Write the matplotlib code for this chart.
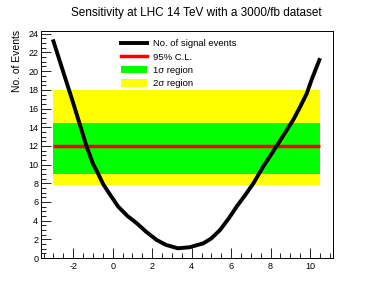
import matplotlib
matplotlib.use("Agg")
import matplotlib.pyplot as plt
from matplotlib.ticker import MultipleLocator
from matplotlib.lines import Line2D
from matplotlib.patches import Patch

plt.rcParams['font.family'] = ['Liberation Sans', 'DejaVu Sans']
plt.rcParams['axes.unicode_minus'] = False

# Data
mass_x = [-3.0, -2.0, -1.33, -1.0, -0.73, -0.48, -0.2, 0.28, 0.75, 1.22, 1.7, 2.23, 2.7, 3.3,
          3.9, 4.59, 5.0, 5.44, 5.9, 6.28, 6.7, 7.13, 7.63, 8.31, 8.7, 9.15, 9.5, 9.83, 10.08, 10.47]
signal_events = [23.2, 16.6, 12.0, 10.1, 9.0, 7.9, 7.0, 5.5, 4.5, 3.72, 2.8, 1.93, 1.4, 1.04,
                 1.15, 1.57, 2.1, 3.0, 4.3, 5.5, 6.7, 8.0, 9.8, 12.0, 13.3, 14.8, 16.2, 17.6, 19.1, 21.2]
band_x = [-3.0, 10.5]
cl95 = 12.0
sigma1 = (9.0, 14.5)
sigma2 = (7.85, 18.0)

title = "Sensitivity at LHC 14 TeV with a 3000/fb dataset"
ylabel = "No. of Events"
legend_labels = ["No. of signal events", "95% C.L.", "1\u03c3 region", "2\u03c3 region"]

fig = plt.figure(figsize=(3.74, 2.90), dpi=100)
ax = fig.add_axes([41/374, 32/290, 292/374, 227/290])

ax.fill_between(band_x, [sigma2[0]]*2, [sigma2[1]]*2, color='#ffff00', lw=0, zorder=1)
ax.fill_between(band_x, [sigma1[0]]*2, [sigma1[1]]*2, color='#00ff00', lw=0, zorder=2)
ax.plot(band_x, [cl95]*2, color='#ff0000', lw=2.5, zorder=3, solid_capstyle='butt')
ax.plot(mass_x, signal_events, color='black', lw=2.8, zorder=4, solid_joinstyle='round')

ax.set_xlim(-3.63, 11.16)
ax.set_ylim(0, 24.3)
ax.xaxis.set_major_locator(MultipleLocator(2))
ax.xaxis.set_minor_locator(MultipleLocator(0.5))
ax.yaxis.set_major_locator(MultipleLocator(2))
ax.yaxis.set_minor_locator(MultipleLocator(0.5))
ax.tick_params(which='both', direction='in', top=False, right=False, labelsize=6.5, width=0.6, colors='black')
ax.tick_params(which='major', length=7)
ax.tick_params(which='minor', length=3.5)
ax.tick_params(axis='x', pad=3)
ax.tick_params(axis='y', pad=2)
for s in ax.spines.values():
    s.set_linewidth(0.7)

fig.text(196/374, 1 - 13/290, title, ha='center', va='center', fontsize=8.5)
fig.text(17/374, 1 - 30/290, ylabel, rotation=90, ha='center', va='top', fontsize=7.5)

handles = [Line2D([0], [0], color='black', lw=2.8),
           Line2D([0], [0], color='#ff0000', lw=2.5),
           Patch(facecolor='#00ff00', edgecolor='none'),
           Patch(facecolor='#ffff00', edgecolor='none')]
leg = ax.legend(handles, legend_labels, loc='upper left', bbox_to_anchor=(0.26, 0.98),
                frameon=False, fontsize=6.8, handlelength=2.8, handleheight=0.9,
                labelspacing=0.42, handletextpad=0.6, borderaxespad=0)

fig.savefig("out.png", dpi=100)
